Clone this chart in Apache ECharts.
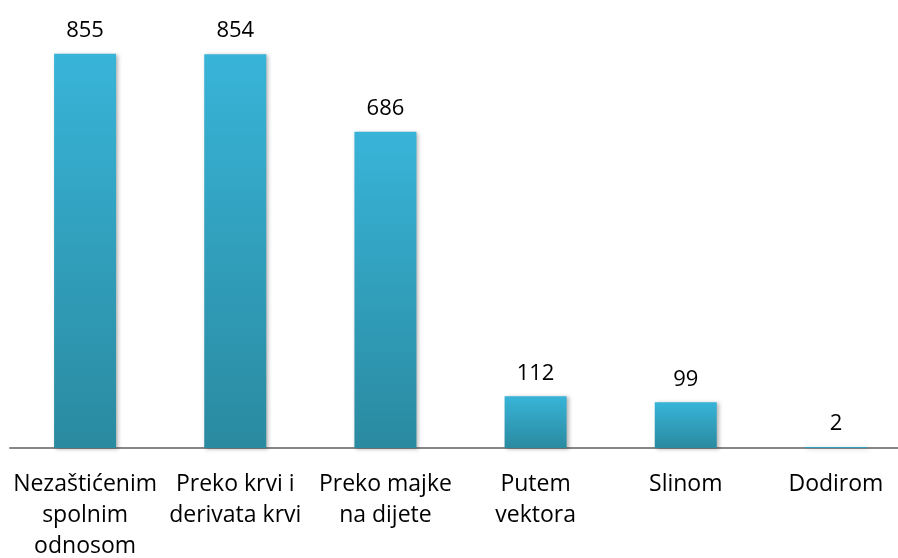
<!DOCTYPE html>
<html>
<head>
    <meta charset="utf-8">
    <title>Chart</title>
    <script src="https://cdn.jsdelivr.net/npm/echarts@6/dist/echarts.min.js"></script>
    <style>
        html, body { margin: 0; padding: 0; background: #fff; }
        #chart { width: 898px; height: 558px; }
    </style>
</head>
<body>
    <div id="chart"></div>
    <script>
        var categories = ['Nezaštićenim\nspolnim\nodnosom', 'Preko krvi i\nderivata krvi', 'Preko majke\nna dijete',
                          'Putem\nvektora', 'Slinom', 'Dodirom'];
        var values = [855, 854, 686, 112, 99, 2];

        var chart = echarts.init(document.getElementById('chart'));
        var font = '"Open Sans", "Noto Sans", sans-serif';

        chart.setOption({
            animation: false,
            grid: { left: 10, width: 901, top: 33, height: 415, containLabel: false, outerBoundsMode: 'none' },
            xAxis: {
                type: 'category',
                data: categories,
                axisLine: { lineStyle: { color: '#868686', width: 2 } },
                axisTick: { show: false },
                axisLabel: {
                    interval: 0,
                    margin: 21,
                    color: '#000',
                    fontSize: 23,
                    lineHeight: 31,
                    fontFamily: font
                }
            },
            yAxis: {
                type: 'value',
                min: 0,
                max: 900,
                show: false,
                splitLine: { show: false }
            },
            series: [{
                type: 'bar',
                data: values,
                barWidth: 62,
                itemStyle: {
                    color: new echarts.graphic.LinearGradient(0, 0, 0, 1, [
                        { offset: 0, color: '#38b4d8' },
                        { offset: 1, color: '#2a8aa0' }
                    ]),
                    shadowBlur: 4,
                    shadowColor: 'rgba(0,0,0,0.3)',
                    shadowOffsetX: 2,
                    shadowOffsetY: 1
                },
                label: {
                    show: true,
                    position: 'top',
                    distance: 12,
                    color: '#000',
                    fontSize: 22,
                    fontFamily: font
                }
            }]
        });
    </script>
</body>
</html>
